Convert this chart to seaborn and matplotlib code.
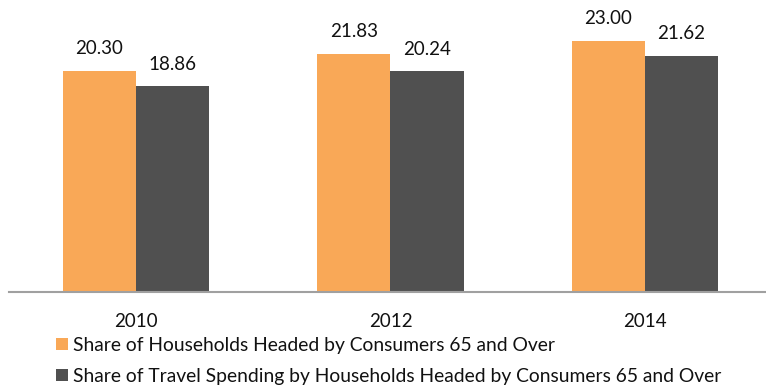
import matplotlib
matplotlib.use("Agg")
import matplotlib.pyplot as plt
from matplotlib.patches import Patch
import seaborn as sns
import pandas as pd

years = ["2010", "2012", "2014"]
households_share = [20.30, 21.83, 23.00]
travel_spending_share = [18.86, 20.24, 21.62]
series_names = [
    "Share of Households Headed by Consumers 65 and Over",
    "Share of Travel Spending by Households Headed by Consumers 65 and Over",
]
colors = ["#F9A857", "#505050"]

df = pd.DataFrame({
    "year": years * 2,
    "value": households_share + travel_spending_share,
    "series": [series_names[0]] * 3 + [series_names[1]] * 3,
})

sns.set_theme(style="white")
plt.rcParams["font.family"] = ["Lato", "DejaVu Sans"]

fig = plt.figure(figsize=(7.66, 3.90), dpi=100)
ax = fig.add_axes([8.75 / 766, 98.3 / 390, 763.5 / 766, 291.7 / 390])

sns.barplot(data=df, x="year", y="value", hue="series", palette=colors,
            width=0.574, gap=0, linewidth=0, saturation=1, ax=ax, legend=False)

ax.set_ylim(0, 26.8)
ax.set_xlim(-0.5, 2.5)
for c in ax.containers:
    ax.bar_label(c, fmt="%.2f", padding=10, fontsize=13.5, color="#111111")

for s in ["top", "left", "right"]:
    ax.spines[s].set_visible(False)
ax.spines["bottom"].set_color("#A0A0A0")
ax.spines["bottom"].set_linewidth(1.5)
ax.set_yticks([])
ax.set_xlabel("")
ax.set_ylabel("")
ax.tick_params(axis="x", length=0, pad=15, labelsize=13.5, labelcolor="#111111")

handles = [Patch(facecolor=c, edgecolor="none") for c in colors]
fig.legend(handles, series_names, loc="upper left",
           bbox_to_anchor=(56 / 766, 1 - 337 / 390), frameon=False,
           fontsize=13.9, handlelength=0.6, handleheight=0.6,
           handletextpad=0.3, labelspacing=0.72, borderpad=0, borderaxespad=0,
           labelcolor="#111111")

fig.savefig("out.png", dpi=100)
